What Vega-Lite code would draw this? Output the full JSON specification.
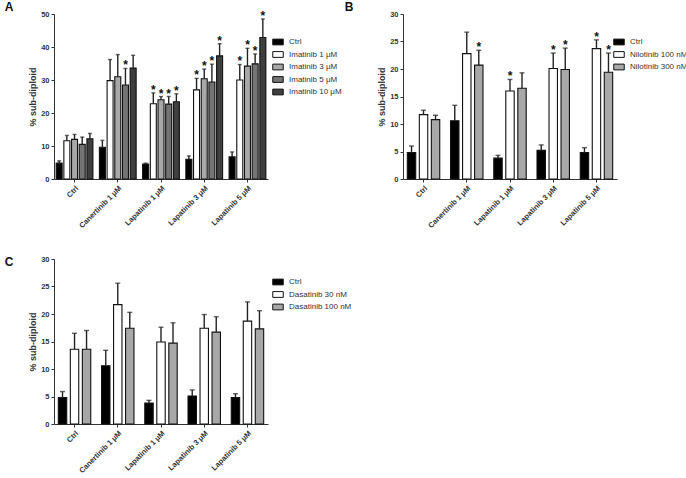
{
  "$schema": "https://vega.github.io/schema/vega-lite/v6.json",
  "padding": {"left": 4, "top": 0, "right": 0, "bottom": 0},
  "background": "white",
  "config": {
    "view": {"stroke": null},
    "font": "Liberation Sans",
    "axis": {"labelFont": "Liberation Sans", "labelFontSize": 7.5, "labelFontWeight": "bold", "labelColor": "#333", "labelOverlap": false, "tickColor": "#333", "domainColor": "#333", "tickSize": 3, "titleFont": "Liberation Sans", "titleFontSize": 9, "titleFontWeight": "bold", "titleColor": "#333", "grid": false},
    "legend": {"labelFont": "Liberation Sans", "labelFontSize": 8, "labelColor": "#333", "symbolType": "M-1,-0.55H1V0.55H-1Z", "symbolSize": 110, "symbolStrokeColor": "#111", "symbolStrokeWidth": 1, "rowPadding": 1.5, "labelOffset": 5},
    "title": {"font": "Liberation Sans", "fontSize": 12, "fontWeight": "bold", "color": "#111", "anchor": "start", "frame": "bounds"}
  },
  "datasets": {
    "A": [
      {"group": "Ctrl", "series": "Ctrl", "value": 4.8, "err": 5.5, "star": ""},
      {"group": "Ctrl", "series": "Imatinib 1 μM", "value": 11.6, "err": 13.2, "star": ""},
      {"group": "Ctrl", "series": "Imatinib 3 μM", "value": 12.0, "err": 13.5, "star": ""},
      {"group": "Ctrl", "series": "Imatinib 5 μM", "value": 10.5, "err": 12.7, "star": ""},
      {"group": "Ctrl", "series": "Imatinib 10 μM", "value": 12.2, "err": 13.8, "star": ""},
      {"group": "Canertinib 1 μM", "series": "Ctrl", "value": 9.6, "err": 11.7, "star": ""},
      {"group": "Canertinib 1 μM", "series": "Imatinib 1 μM", "value": 29.8, "err": 36.2, "star": ""},
      {"group": "Canertinib 1 μM", "series": "Imatinib 3 μM", "value": 31.0, "err": 37.7, "star": ""},
      {"group": "Canertinib 1 μM", "series": "Imatinib 5 μM", "value": 28.5, "err": 33.5, "star": "*"},
      {"group": "Canertinib 1 μM", "series": "Imatinib 10 μM", "value": 33.6, "err": 37.5, "star": ""},
      {"group": "Lapatinib 1 μM", "series": "Ctrl", "value": 4.5, "err": 4.8, "star": ""},
      {"group": "Lapatinib 1 μM", "series": "Imatinib 1 μM", "value": 22.8, "err": 26.1, "star": "*"},
      {"group": "Lapatinib 1 μM", "series": "Imatinib 3 μM", "value": 24.0, "err": 25.0, "star": "*"},
      {"group": "Lapatinib 1 μM", "series": "Imatinib 5 μM", "value": 22.7, "err": 25.0, "star": "*"},
      {"group": "Lapatinib 1 μM", "series": "Imatinib 10 μM", "value": 23.4, "err": 25.8, "star": "*"},
      {"group": "Lapatinib 3 μM", "series": "Ctrl", "value": 6.0, "err": 7.0, "star": ""},
      {"group": "Lapatinib 3 μM", "series": "Imatinib 1 μM", "value": 27.0, "err": 30.5, "star": "*"},
      {"group": "Lapatinib 3 μM", "series": "Imatinib 3 μM", "value": 30.4, "err": 33.3, "star": "*"},
      {"group": "Lapatinib 3 μM", "series": "Imatinib 5 μM", "value": 29.4, "err": 34.8, "star": "*"},
      {"group": "Lapatinib 3 μM", "series": "Imatinib 10 μM", "value": 37.3, "err": 41.0, "star": "*"},
      {"group": "Lapatinib 5 μM", "series": "Ctrl", "value": 6.7, "err": 8.2, "star": ""},
      {"group": "Lapatinib 5 μM", "series": "Imatinib 1 μM", "value": 30.0, "err": 34.7, "star": "*"},
      {"group": "Lapatinib 5 μM", "series": "Imatinib 3 μM", "value": 34.2, "err": 39.6, "star": "*"},
      {"group": "Lapatinib 5 μM", "series": "Imatinib 5 μM", "value": 34.9, "err": 37.9, "star": "*"},
      {"group": "Lapatinib 5 μM", "series": "Imatinib 10 μM", "value": 42.9, "err": 48.5, "star": "*"}
    ],
    "B": [
      {"group": "Ctrl", "series": "Ctrl", "value": 4.8, "err": 6.0, "star": ""},
      {"group": "Ctrl", "series": "Nilotinib 100 nM", "value": 11.7, "err": 12.5, "star": ""},
      {"group": "Ctrl", "series": "Nilotinib 300 nM", "value": 10.8, "err": 11.6, "star": ""},
      {"group": "Canertinib 1 μM", "series": "Ctrl", "value": 10.6, "err": 13.4, "star": ""},
      {"group": "Canertinib 1 μM", "series": "Nilotinib 100 nM", "value": 22.8, "err": 26.7, "star": ""},
      {"group": "Canertinib 1 μM", "series": "Nilotinib 300 nM", "value": 20.7, "err": 23.4, "star": "*"},
      {"group": "Lapatinib 1 μM", "series": "Ctrl", "value": 3.8, "err": 4.3, "star": ""},
      {"group": "Lapatinib 1 μM", "series": "Nilotinib 100 nM", "value": 16.0, "err": 18.1, "star": "*"},
      {"group": "Lapatinib 1 μM", "series": "Nilotinib 300 nM", "value": 16.5, "err": 19.3, "star": ""},
      {"group": "Lapatinib 3 μM", "series": "Ctrl", "value": 5.2, "err": 6.2, "star": ""},
      {"group": "Lapatinib 3 μM", "series": "Nilotinib 100 nM", "value": 20.1, "err": 22.9, "star": "*"},
      {"group": "Lapatinib 3 μM", "series": "Nilotinib 300 nM", "value": 19.9, "err": 23.8, "star": "*"},
      {"group": "Lapatinib 5 μM", "series": "Ctrl", "value": 4.8, "err": 5.7, "star": ""},
      {"group": "Lapatinib 5 μM", "series": "Nilotinib 100 nM", "value": 23.7, "err": 25.3, "star": "*"},
      {"group": "Lapatinib 5 μM", "series": "Nilotinib 300 nM", "value": 19.4, "err": 22.9, "star": "*"}
    ],
    "C": [
      {"group": "Ctrl", "series": "Ctrl", "value": 4.8, "err": 5.9},
      {"group": "Ctrl", "series": "Dasatinib 30 nM", "value": 13.6, "err": 16.5},
      {"group": "Ctrl", "series": "Dasatinib 100 nM", "value": 13.6, "err": 17.0},
      {"group": "Canertinib 1 μM", "series": "Ctrl", "value": 10.6, "err": 13.4},
      {"group": "Canertinib 1 μM", "series": "Dasatinib 30 nM", "value": 21.7, "err": 25.6},
      {"group": "Canertinib 1 μM", "series": "Dasatinib 100 nM", "value": 17.4, "err": 20.3},
      {"group": "Lapatinib 1 μM", "series": "Ctrl", "value": 3.8, "err": 4.3},
      {"group": "Lapatinib 1 μM", "series": "Dasatinib 30 nM", "value": 14.9, "err": 17.6},
      {"group": "Lapatinib 1 μM", "series": "Dasatinib 100 nM", "value": 14.7, "err": 18.4},
      {"group": "Lapatinib 3 μM", "series": "Ctrl", "value": 5.1, "err": 6.2},
      {"group": "Lapatinib 3 μM", "series": "Dasatinib 30 nM", "value": 17.4, "err": 19.9},
      {"group": "Lapatinib 3 μM", "series": "Dasatinib 100 nM", "value": 16.7, "err": 19.5},
      {"group": "Lapatinib 5 μM", "series": "Ctrl", "value": 4.8, "err": 5.5},
      {"group": "Lapatinib 5 μM", "series": "Dasatinib 30 nM", "value": 18.7, "err": 22.2},
      {"group": "Lapatinib 5 μM", "series": "Dasatinib 100 nM", "value": 17.3, "err": 20.6}
    ]
  },
  "spacing": 25,
  "vconcat": [
    {
      "spacing": 2,
      "hconcat": [
        {
          "title": {"text": "A", "offset": -4, "dx": -24},
          "data": {"name": "A"},
          "width": 214, "height": 165,
          "encoding": {
            "x": {"field": "group", "type": "nominal", "sort": null, "title": null, "scale": {"paddingInner": 0.15, "paddingOuter": 0.05}, "axis": {"labelAngle": -45, "labelPadding": 2}},
            "xOffset": {"field": "series", "type": "nominal", "sort": null, "scale": {"paddingInner": 0.22}}
          },
          "layer": [
            {"mark": {"type": "bar", "stroke": "#111", "strokeWidth": 1.1},
             "encoding": {
               "y": {"field": "value", "type": "quantitative", "scale": {"domain": [0, 50]}, "title": "% sub-diploid", "axis": {"values": [0, 10, 20, 30, 40, 50], "tickCount": 6, "titlePadding": 3}},
               "color": {"field": "series", "type": "nominal", "sort": null, "scale": {"range": ["#000000", "#ffffff", "#a8a8a8", "#747474", "#3f3f3f"]}, "legend": {"title": null, "orient": "none", "legendX": 218, "legendY": 22}}
             }},
            {"mark": {"type": "rule", "stroke": "#222", "strokeWidth": 1.4}, "encoding": {"y": {"field": "value", "type": "quantitative", "title": "% sub-diploid", "axis": {"values": [0, 10, 20, 30, 40, 50], "tickCount": 6, "titlePadding": 3}}, "y2": {"field": "err"}}},
            {"mark": {"type": "tick", "color": "#222", "thickness": 1.4, "size": 4}, "encoding": {"y": {"field": "err", "type": "quantitative", "title": "% sub-diploid", "axis": {"values": [0, 10, 20, 30, 40, 50], "tickCount": 6, "titlePadding": 3}}}},
            {"transform": [{"filter": "datum.star != ''"}], "mark": {"type": "text", "fontSize": 12, "fontWeight": "bold", "baseline": "alphabetic", "dy": 1, "color": "#111"}, "encoding": {"y": {"field": "err", "type": "quantitative", "title": "% sub-diploid", "axis": {"values": [0, 10, 20, 30, 40, 50], "tickCount": 6, "titlePadding": 3}}, "text": {"field": "star"}}}
          ]
        },
        {
          "title": {"text": "B", "offset": -4, "dx": -33},
          "data": {"name": "B"},
          "width": 214, "height": 165,
          "encoding": {
            "x": {"field": "group", "type": "nominal", "sort": null, "title": null, "scale": {"paddingInner": 0.25, "paddingOuter": 0.1}, "axis": {"labelAngle": -45, "labelPadding": 2}},
            "xOffset": {"field": "series", "type": "nominal", "sort": null, "scale": {"paddingInner": 0.3}}
          },
          "layer": [
            {"mark": {"type": "bar", "stroke": "#111", "strokeWidth": 1.1},
             "encoding": {
               "y": {"field": "value", "type": "quantitative", "scale": {"domain": [0, 30]}, "title": "% sub-diploid", "axis": {"values": [0, 5, 10, 15, 20, 25, 30], "tickCount": 7, "titlePadding": 3}},
               "color": {"field": "series", "type": "nominal", "sort": null, "scale": {"range": ["#000000", "#ffffff", "#a8a8a8"]}, "legend": {"title": null, "orient": "none", "legendX": 210, "legendY": 22}}
             }},
            {"mark": {"type": "rule", "stroke": "#222", "strokeWidth": 1.4}, "encoding": {"y": {"field": "value", "type": "quantitative", "title": "% sub-diploid", "axis": {"values": [0, 5, 10, 15, 20, 25, 30], "tickCount": 7, "titlePadding": 3}}, "y2": {"field": "err"}}},
            {"mark": {"type": "tick", "color": "#222", "thickness": 1.4, "size": 5}, "encoding": {"y": {"field": "err", "type": "quantitative", "title": "% sub-diploid", "axis": {"values": [0, 5, 10, 15, 20, 25, 30], "tickCount": 7, "titlePadding": 3}}}},
            {"transform": [{"filter": "datum.star != ''"}], "mark": {"type": "text", "fontSize": 12, "fontWeight": "bold", "baseline": "alphabetic", "dy": 1, "color": "#111"}, "encoding": {"y": {"field": "err", "type": "quantitative", "title": "% sub-diploid", "axis": {"values": [0, 5, 10, 15, 20, 25, 30], "tickCount": 7, "titlePadding": 3}}, "text": {"field": "star"}}}
          ]
        }
      ],
      "resolve": {"scale": {"color": "independent", "y": "independent", "x": "independent", "xOffset": "independent"}}
    },
    {
      "title": {"text": "C", "offset": -14, "dx": -24},
      "data": {"name": "C"},
      "width": 214, "height": 165,
      "encoding": {
        "x": {"field": "group", "type": "nominal", "sort": null, "title": null, "scale": {"paddingInner": 0.25, "paddingOuter": 0.1}, "axis": {"labelAngle": -45, "labelPadding": 2}},
        "xOffset": {"field": "series", "type": "nominal", "sort": null, "scale": {"paddingInner": 0.3}}
      },
      "layer": [
        {"mark": {"type": "bar", "stroke": "#111", "strokeWidth": 1.1},
         "encoding": {
           "y": {"field": "value", "type": "quantitative", "scale": {"domain": [0, 30]}, "title": "% sub-diploid", "axis": {"values": [0, 5, 10, 15, 20, 25, 30], "tickCount": 7, "titlePadding": 3}},
           "color": {"field": "series", "type": "nominal", "sort": null, "scale": {"range": ["#000000", "#ffffff", "#a8a8a8"]}, "legend": {"title": null, "orient": "none", "legendX": 218, "legendY": 17}}
         }},
        {"mark": {"type": "rule", "stroke": "#222", "strokeWidth": 1.4}, "encoding": {"y": {"field": "value", "type": "quantitative", "title": "% sub-diploid", "axis": {"values": [0, 5, 10, 15, 20, 25, 30], "tickCount": 7, "titlePadding": 3}}, "y2": {"field": "err"}}},
        {"mark": {"type": "tick", "color": "#222", "thickness": 1.4, "size": 5}, "encoding": {"y": {"field": "err", "type": "quantitative", "title": "% sub-diploid", "axis": {"values": [0, 5, 10, 15, 20, 25, 30], "tickCount": 7, "titlePadding": 3}}}}
      ]
    }
  ],
  "resolve": {"scale": {"color": "independent", "y": "independent", "x": "independent", "xOffset": "independent"}}
}
